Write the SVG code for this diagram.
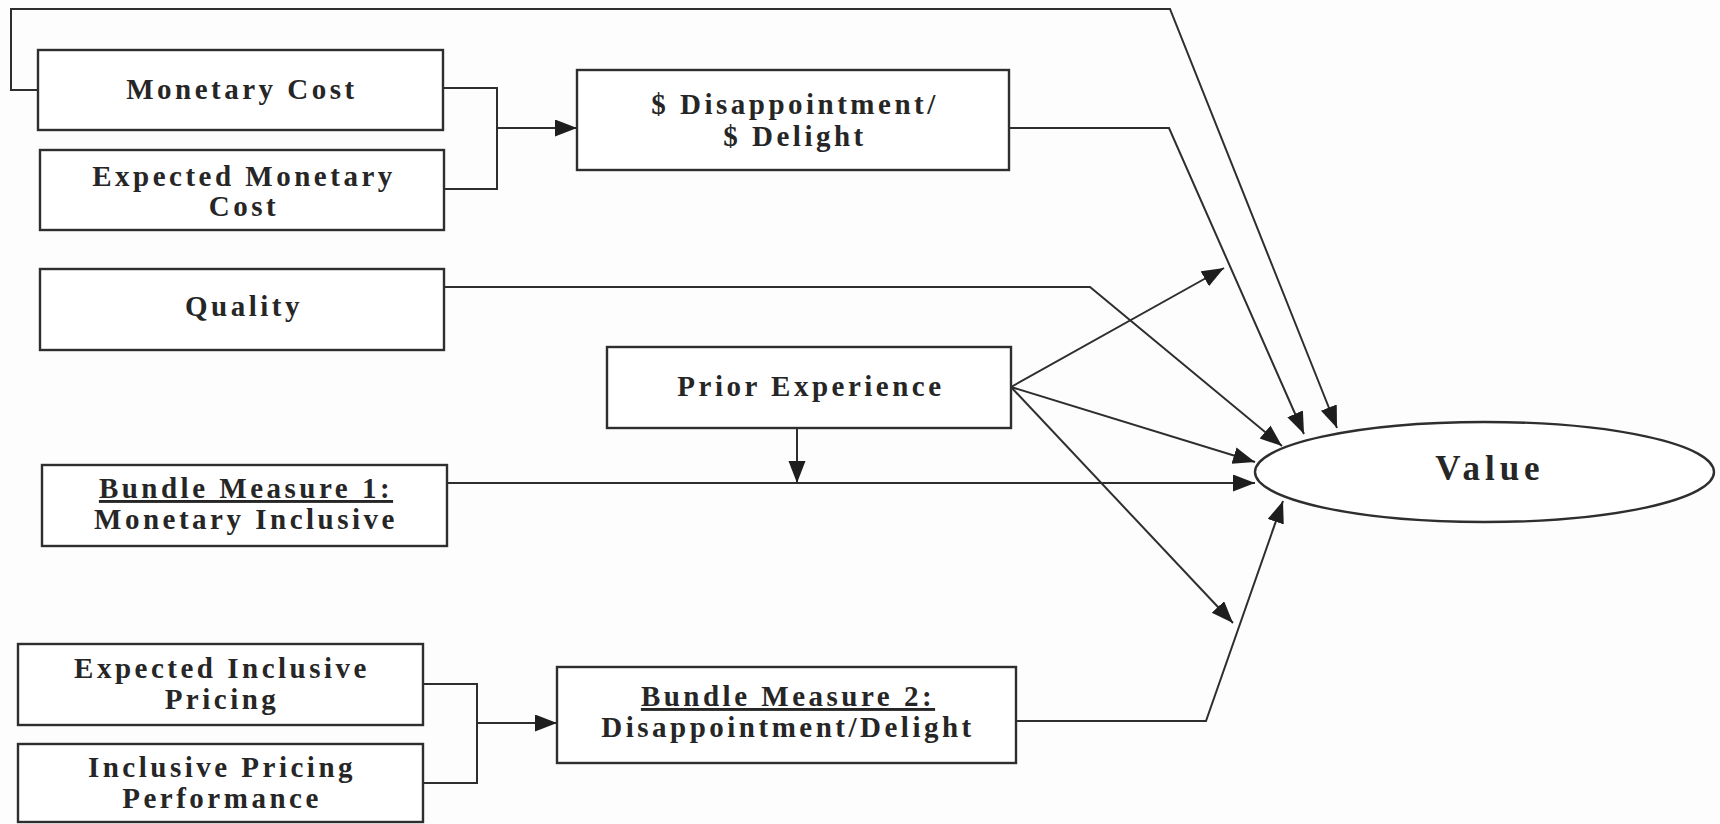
<svg xmlns="http://www.w3.org/2000/svg" width="1720" height="824" viewBox="0 0 1720 824">
  <style>
    .box { fill: #ffffff; stroke: #2e2e2e; stroke-width: 2.4; }
    .lbl { font-family: "Liberation Serif", "Times New Roman", serif; font-weight: bold; font-size: 29px; letter-spacing: 3.5px; fill: #262626; text-anchor: middle; }
    .ul { text-decoration: underline; }
    .big { font-size: 35px; letter-spacing: 5px; }
    .wire { fill: none; stroke: #2e2e2e; stroke-width: 2; }
    .arr { marker-end: url(#head); }
  </style>
  <defs>
    <marker id="head" markerUnits="userSpaceOnUse" markerWidth="24" markerHeight="18" refX="22" refY="8.5" orient="auto">
      <path d="M0,0 L22,8.5 L0,17 Z" fill="#1e1e1e"/>
    </marker>
  </defs>

  <rect width="1720" height="824" fill="#fdfdfd"/>

  <!-- connectors -->
  <g id="connectors">
    <!-- Monetary Cost loop over the top into Value -->
    <path class="wire arr" d="M38,90 H11 V9 H1170 L1337,428"/>
    <!-- Monetary Cost + Expected Monetary Cost bracket -->
    <path class="wire" d="M443,88 H497 V189 H444"/>
    <path class="wire arr" d="M497,128 H577"/>
    <!-- $ Disappointment / $ Delight to Value -->
    <path class="wire arr" d="M1009,128 H1169 L1304,434"/>
    <!-- Quality to Value -->
    <path class="wire arr" d="M444,287 H1090 L1282,446"/>
    <!-- Prior Experience fan -->
    <path class="wire arr" d="M1011,387 L1224,268"/>
    <path class="wire arr" d="M1011,387 L1255,462"/>
    <path class="wire arr" d="M1011,387 L1233,623"/>
    <!-- Prior Experience moderating Bundle Measure 1 -->
    <path class="wire arr" d="M797,428 V483"/>
    <!-- Bundle Measure 1 to Value -->
    <path class="wire arr" d="M447,483 H1255"/>
    <!-- Expected Inclusive Pricing + Inclusive Pricing Performance bracket -->
    <path class="wire" d="M423,684 H477 V783 H423"/>
    <path class="wire arr" d="M477,723 H557"/>
    <!-- Bundle Measure 2 to Value -->
    <path class="wire arr" d="M1016,721 H1206 L1283,501"/>
  </g>

  <g id="monetary-cost">
    <rect class="box" x="38" y="50" width="405" height="80"/>
    <text class="lbl" x="242" y="99">Monetary Cost</text>
  </g>

  <g id="expected-monetary-cost">
    <rect class="box" x="40" y="150" width="404" height="80"/>
    <text class="lbl" x="244" y="186">Expected Monetary</text>
    <text class="lbl" x="244" y="216">Cost</text>
  </g>

  <g id="dollar-disappointment">
    <rect class="box" x="577" y="70" width="432" height="100"/>
    <text class="lbl" x="795" y="114">$ Disappointment/</text>
    <text class="lbl" x="795" y="146">$ Delight</text>
  </g>

  <g id="quality">
    <rect class="box" x="40" y="269" width="404" height="81"/>
    <text class="lbl" x="244" y="316">Quality</text>
  </g>

  <g id="prior-experience">
    <rect class="box" x="607" y="347" width="404" height="81"/>
    <text class="lbl" x="811" y="396">Prior Experience</text>
  </g>

  <g id="bundle-measure-1">
    <rect class="box" x="42" y="465" width="405" height="81"/>
    <text class="lbl ul" x="246" y="498">Bundle Measure 1:</text>
    <text class="lbl" x="246" y="529">Monetary Inclusive</text>
  </g>

  <g id="expected-inclusive-pricing">
    <rect class="box" x="18" y="644" width="405" height="81"/>
    <text class="lbl" x="222" y="678">Expected Inclusive</text>
    <text class="lbl" x="222" y="709">Pricing</text>
  </g>

  <g id="inclusive-pricing-performance">
    <rect class="box" x="18" y="744" width="405" height="78"/>
    <text class="lbl" x="222" y="777">Inclusive Pricing</text>
    <text class="lbl" x="222" y="808">Performance</text>
  </g>

  <g id="bundle-measure-2">
    <rect class="box" x="557" y="667" width="459" height="96"/>
    <text class="lbl ul" x="788" y="706">Bundle Measure 2:</text>
    <text class="lbl" x="788" y="737">Disappointment/Delight</text>
  </g>

  <g id="value">
    <ellipse class="box" cx="1484.5" cy="472" rx="229.5" ry="50"/>
    <text class="lbl big" x="1490" y="480">Value</text>
  </g>
</svg>
